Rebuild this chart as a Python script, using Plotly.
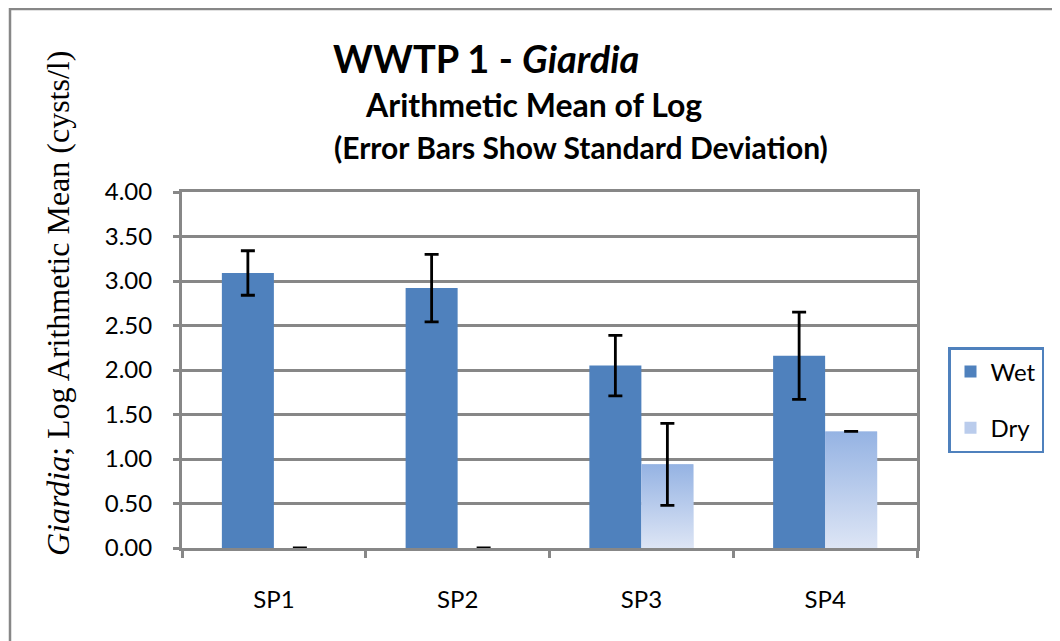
import plotly.graph_objects as go

# ---- data ----
categories = ["SP1", "SP2", "SP3", "SP4"]
wet_mean = [3.09, 2.92, 2.05, 2.16]
wet_sd = [0.25, 0.38, 0.34, 0.49]
dry_mean = [0.0, 0.0, 0.94, 1.31]
dry_sd = [0.0, 0.0, 0.46, 0.0]
y_tickvals = [0.0, 0.5, 1.0, 1.5, 2.0, 2.5, 3.0, 3.5, 4.0]
series_names = ["Wet", "Dry"]

# ---- layout constants ----
W, H = 1060, 641
OFF = 8  # page body margin
ML, MR, MT, MB = 174, 151, 184, 101
PW, PH = W - ML - MR, H - MT - MB
BAR_W = 0.283
WET_COLOR = "#4F81BD"
DRY_TOP, DRY_BOTTOM = "#95B3E3", "#DDE5F5"
GRID = "#878787"
FONT = "Lato"

def px_x(sx):
    return (sx - OFF - ML) / PW

def px_y(sy):
    return (H - MB - (sy - OFF)) / PH

idx = list(range(len(categories)))

fig = go.Figure()

fig.add_trace(go.Bar(
    x=idx, y=wet_mean, width=BAR_W, offset=-BAR_W, name=series_names[0],
    marker=dict(color=WET_COLOR, line=dict(width=0)),
    error_y=dict(type="data", array=wet_sd, visible=True, color="black",
                 thickness=2.8, width=7),
    legendgroup="wet",
))
fig.add_trace(go.Bar(
    x=idx, y=dry_mean, width=BAR_W, offset=0, name=series_names[1],
    marker=dict(color="#BACCEC", line=dict(width=0)),
    legendgroup="dry",
))
# gradient fill for dry bars
for i, v in zip(idx, dry_mean):
    if v <= 0:
        continue
    fig.add_trace(go.Scatter(
        x=[i, i + BAR_W, i + BAR_W, i, i], y=[0, 0, v, v, 0],
        mode="lines", fill="toself", line=dict(width=0),
        fillgradient=dict(type="vertical",
                          colorscale=[[0, DRY_BOTTOM], [1, DRY_TOP]]),
        showlegend=False, hoverinfo="skip",
    ))
# dry error bars on top
fig.add_trace(go.Scatter(
    x=[i + BAR_W / 2 for i in idx], y=dry_mean, mode="markers",
    marker=dict(size=1, opacity=0),
    error_y=dict(type="data", array=dry_sd, visible=True, color="black",
                 thickness=2.8, width=7),
    showlegend=False, hoverinfo="skip",
))

fig.update_layout(
    width=W, height=H,
    margin=dict(l=ML, r=MR, t=MT, b=MB),
    paper_bgcolor="white", plot_bgcolor="white",
    font=dict(family=FONT, color="black"),
    showlegend=True,
    legend=dict(
        x=px_x(948), y=px_y(347), xanchor="left", yanchor="top",
        bordercolor="#4F81BD", borderwidth=2.5,
        font=dict(family=FONT, size=24),
        traceorder="grouped", tracegroupgap=22,
        bgcolor="white",
    ),
    xaxis=dict(
        range=[-0.5, 3.5], tickvals=idx, ticktext=categories,
        ticks="", showgrid=False, zeroline=False,
        showline=True, linecolor=GRID, linewidth=3, mirror=True,
        tickfont=dict(family=FONT, size=24),
        ticklabelstandoff=28,
        minor=dict(tickvals=[-0.5, 0.5, 1.5, 2.5, 3.5], ticks="outside",
                   ticklen=7, tickwidth=3, tickcolor=GRID, showgrid=False),
    ),
    yaxis=dict(
        range=[0, 4], tickvals=y_tickvals,
        tickformat=".2f", ticks="outside", ticklen=6, tickwidth=3,
        tickcolor=GRID, showgrid=True, gridcolor=GRID, gridwidth=3,
        zeroline=False, showline=True, linecolor=GRID, linewidth=3,
        mirror=True, tickfont=dict(family=FONT, size=24),
        ticklabelstandoff=16,
    ),
    shapes=[dict(type="rect", xref="paper", yref="paper",
                 x0=px_x(10), x1=px_x(1100), y0=px_y(720), y1=px_y(9),
                 line=dict(color=GRID, width=2.5), fillcolor="rgba(0,0,0,0)",
                 layer="below")],
    annotations=[
        dict(text="<b>WWTP 1 - <i>Giardia</i></b>", x=px_x(486), y=px_y(58),
             xref="paper", yref="paper", showarrow=False,
             font=dict(family=FONT, size=38), xanchor="center", yanchor="middle"),
        dict(text="<b>Arithmetic Mean of Log</b>", x=px_x(533), y=px_y(104),
             xref="paper", yref="paper", showarrow=False,
             font=dict(family=FONT, size=32), xanchor="center", yanchor="middle"),
        dict(text="<b>(Error Bars Show Standard Deviation)</b>", x=px_x(581), y=px_y(147),
             xref="paper", yref="paper", showarrow=False,
             font=dict(family=FONT, size=30), xanchor="center", yanchor="middle"),
        dict(text="<i>Giardia</i>; Log Arithmetic Mean (cysts/l)",
             x=px_x(58), y=px_y(304), xref="paper", yref="paper",
             showarrow=False, textangle=-90,
             font=dict(family="Liberation Serif", size=32),
             xanchor="center", yanchor="middle"),
    ],
)

fig.write_html("out.html")
